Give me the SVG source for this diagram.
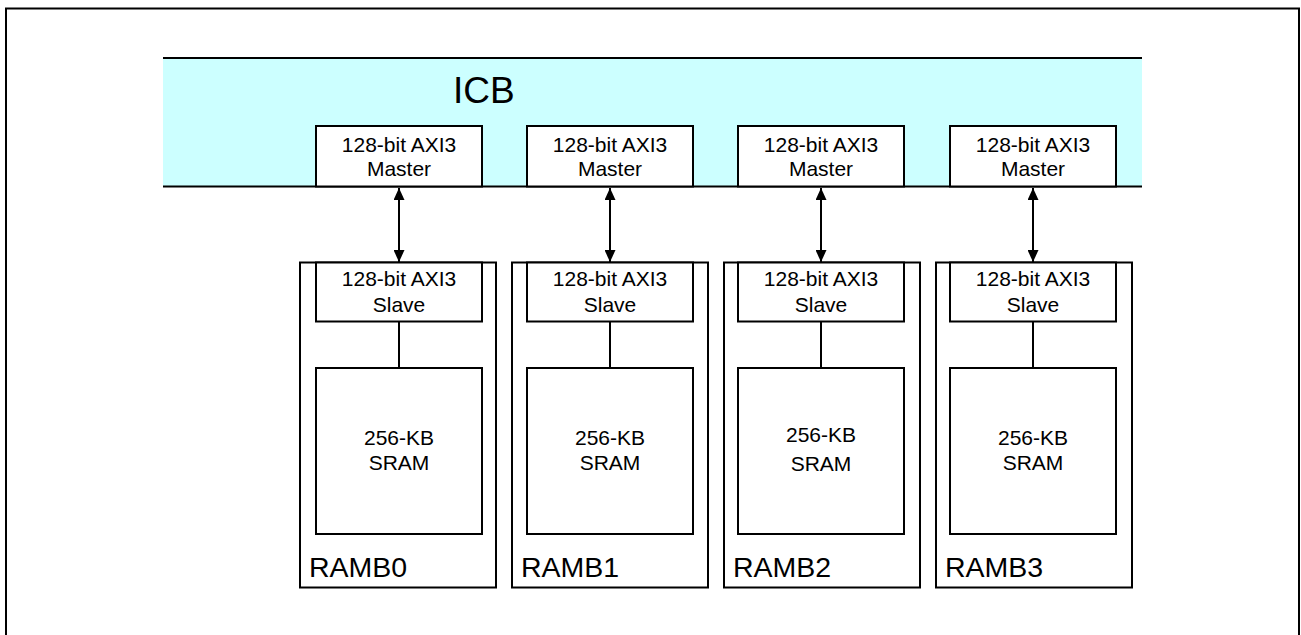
<svg xmlns="http://www.w3.org/2000/svg" width="1301" height="635" viewBox="0 0 1301 635">
<style>
.box{fill:#fff;stroke:#000;stroke-width:2}
.ob{fill:none;stroke:#000;stroke-width:2}
.t{font-family:"Liberation Sans",Arial,sans-serif;font-size:21px;fill:#000;text-anchor:middle}
.big{font-family:"Liberation Sans",Arial,sans-serif;fill:#000}
.ln{stroke:#000;stroke-width:2;fill:none}
</style>
<defs>
<marker id="ah" viewBox="0 0 12 11" refX="12" refY="5.5" markerWidth="12" markerHeight="11" markerUnits="userSpaceOnUse" orient="auto-start-reverse">
<path d="M0,0 L12,5.5 L0,11 Z" fill="#000"/>
</marker>
</defs>
<rect x="0" y="0" width="1301" height="635" fill="#fff"/>
<g id="frame"><rect x="6" y="8.5" width="1293" height="640" class="ob"/></g>
<g id="icb">
<rect x="163" y="58" width="979" height="128" fill="#CCFFFF"/>
<line x1="163" y1="58" x2="1142" y2="58" class="ln"/>
<line x1="163" y1="186.5" x2="1142" y2="186.5" class="ln"/>
<text x="453" y="103" class="big" font-size="37">ICB</text>
</g>
<g id="master0"><rect x="316" y="126" width="166" height="60.5" class="box"/><text x="399" y="151.5" class="t">128-bit AXI3</text><text x="399" y="175.5" class="t">Master</text></g>
<g id="master1"><rect x="527" y="126" width="166" height="60.5" class="box"/><text x="610" y="151.5" class="t">128-bit AXI3</text><text x="610" y="175.5" class="t">Master</text></g>
<g id="master2"><rect x="738" y="126" width="166" height="60.5" class="box"/><text x="821" y="151.5" class="t">128-bit AXI3</text><text x="821" y="175.5" class="t">Master</text></g>
<g id="master3"><rect x="950" y="126" width="166" height="60.5" class="box"/><text x="1033" y="151.5" class="t">128-bit AXI3</text><text x="1033" y="175.5" class="t">Master</text></g>
<g id="ramb0"><rect x="300" y="262.5" width="196" height="325" class="ob"/><text x="309" y="577" class="big" font-size="28.5">RAMB0</text></g>
<g id="ramb1"><rect x="512" y="262.5" width="196" height="325" class="ob"/><text x="521" y="577" class="big" font-size="28.5">RAMB1</text></g>
<g id="ramb2"><rect x="724" y="262.5" width="196" height="325" class="ob"/><text x="733" y="577" class="big" font-size="28.5">RAMB2</text></g>
<g id="ramb3"><rect x="936" y="262.5" width="196" height="325" class="ob"/><text x="945" y="577" class="big" font-size="28.5">RAMB3</text></g>
<g id="slave0"><rect x="316" y="262.5" width="166" height="59" class="box"/><text x="399" y="286" class="t">128-bit AXI3</text><text x="399" y="311.5" class="t">Slave</text></g>
<g id="slave1"><rect x="527" y="262.5" width="166" height="59" class="box"/><text x="610" y="286" class="t">128-bit AXI3</text><text x="610" y="311.5" class="t">Slave</text></g>
<g id="slave2"><rect x="738" y="262.5" width="166" height="59" class="box"/><text x="821" y="286" class="t">128-bit AXI3</text><text x="821" y="311.5" class="t">Slave</text></g>
<g id="slave3"><rect x="950" y="262.5" width="166" height="59" class="box"/><text x="1033" y="286" class="t">128-bit AXI3</text><text x="1033" y="311.5" class="t">Slave</text></g>
<g id="sram0"><rect x="316" y="368" width="166" height="166" class="box"/><text x="399" y="445" class="t">256-KB</text><text x="399" y="470" class="t">SRAM</text></g>
<g id="sram1"><rect x="527" y="368" width="166" height="166" class="box"/><text x="610" y="445" class="t">256-KB</text><text x="610" y="470" class="t">SRAM</text></g>
<g id="sram2"><rect x="738" y="368" width="166" height="166" class="box"/><text x="821" y="442" class="t">256-KB</text><text x="821" y="471" class="t">SRAM</text></g>
<g id="sram3"><rect x="950" y="368" width="166" height="166" class="box"/><text x="1033" y="445" class="t">256-KB</text><text x="1033" y="470" class="t">SRAM</text></g>
<g id="connectors">
<line x1="399" y1="188" x2="399" y2="262" class="ln" marker-start="url(#ah)" marker-end="url(#ah)"/>
<line x1="610" y1="188" x2="610" y2="262" class="ln" marker-start="url(#ah)" marker-end="url(#ah)"/>
<line x1="821" y1="188" x2="821" y2="262" class="ln" marker-start="url(#ah)" marker-end="url(#ah)"/>
<line x1="1033" y1="188" x2="1033" y2="262" class="ln" marker-start="url(#ah)" marker-end="url(#ah)"/>
<line x1="399" y1="321.5" x2="399" y2="368" class="ln"/>
<line x1="610" y1="321.5" x2="610" y2="368" class="ln"/>
<line x1="821" y1="321.5" x2="821" y2="368" class="ln"/>
<line x1="1033" y1="321.5" x2="1033" y2="368" class="ln"/>
</g>
</svg>
